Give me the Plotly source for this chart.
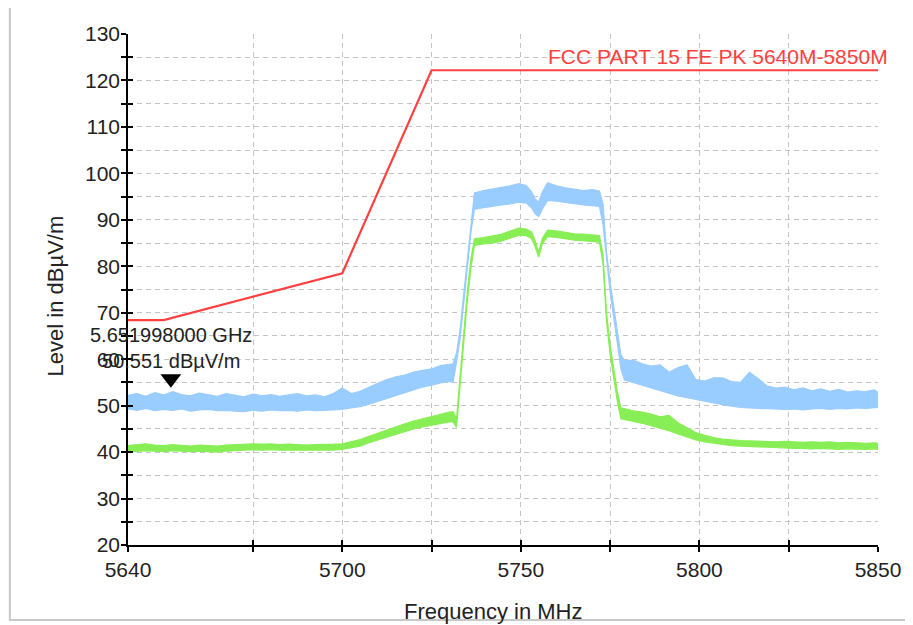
import plotly.graph_objects as go

# ---------------- data ----------------
freq_mhz = [
    5640, 5642.5, 5645, 5647.5, 5650, 5652.5, 5655, 5657.5, 5660, 5662.5,
    5665, 5667.5, 5670, 5672.5, 5675, 5677.5, 5680, 5682.5, 5685, 5687.5,
    5690, 5692.5, 5695, 5697.5, 5700, 5702.5, 5705, 5707.5, 5710, 5712.5,
    5715, 5717.5, 5720, 5722.5, 5725, 5727.5, 5730,
    5731, 5732, 5733, 5734, 5735, 5736,
    5737, 5739.5, 5742, 5744.5, 5747, 5749.5, 5751.5, 5753, 5754, 5755,
    5756, 5757.5, 5760, 5762.5, 5765, 5767.5, 5770, 5772,
    5773, 5774, 5775, 5776, 5777, 5778,
    5779, 5781.5, 5784, 5786.5, 5789, 5791.5, 5794, 5796.5, 5799, 5801.5,
    5804, 5806.5, 5809, 5811.5, 5814, 5816.5, 5819, 5821.5, 5824, 5826.5,
    5829, 5831.5, 5834, 5836.5, 5839, 5841.5, 5844, 5846.5, 5849, 5850,
]

peak_hi = [
    52.2, 52.6, 52.0, 52.8, 52.3, 53.0, 52.4, 52.1, 52.7, 52.3,
    52.0, 52.6, 52.2, 51.9, 52.5, 52.1, 52.4, 52.0, 52.3, 52.6,
    52.1, 52.3, 51.9, 52.6, 53.8, 52.6, 53.1, 54.0, 54.8, 55.6,
    56.2, 56.6, 57.2, 57.6, 57.9, 58.6, 58.9,
    59.0, 61.4, 66.5, 74.0, 81.8, 89.2,
    95.8, 96.3, 96.6, 96.9, 97.3, 97.8, 97.4, 96.0, 94.5, 93.8,
    96.0, 98.0, 97.3, 96.9, 96.6, 96.3, 96.5, 96.2,
    93.5, 83.0, 76.5, 71.0, 66.0, 61.0,
    59.7, 59.8, 59.0, 58.5, 58.8, 57.2, 58.2, 58.8, 55.6, 55.3,
    56.0, 56.0, 55.2, 55.0, 57.2, 55.8, 54.2, 53.8, 54.0, 53.4,
    53.8, 53.2, 53.6, 53.1, 53.5, 52.9, 53.2, 53.0, 53.4, 52.8,
]

peak_lo = [
    49.3, 49.0, 49.4, 48.9, 49.2, 49.0, 49.3, 48.8, 49.1, 49.2,
    48.9, 49.0, 48.8, 48.7, 49.0, 48.8, 49.1, 48.9, 49.0, 48.8,
    49.1, 48.9, 49.0, 49.1, 49.2, 49.5, 49.8, 50.3, 50.9, 51.6,
    52.2, 52.8, 53.4, 54.0, 54.4, 54.9, 55.2,
    55.0, 59.4, 64.5, 72.0, 79.8, 87.2,
    92.3, 92.6, 93.0, 93.2, 93.4, 93.8, 93.6, 92.6, 91.3, 90.7,
    92.3, 94.2, 94.0, 93.8, 93.5, 93.2, 93.1, 92.9,
    89.0, 81.0, 74.5, 69.0, 63.5, 58.0,
    55.5, 55.0, 54.4, 53.8, 53.2, 52.6, 52.1, 51.7, 51.3, 50.9,
    50.5, 50.2, 49.9, 49.6, 49.5, 49.4, 49.3, 49.2, 49.2, 49.3,
    49.1, 49.3, 49.4, 49.2, 49.4, 49.3, 49.5, 49.4, 49.6, 49.6,
]

avg_hi = [
    41.4, 41.6, 41.8, 41.5, 41.4, 41.6, 41.5, 41.3, 41.5, 41.4,
    41.3, 41.5, 41.6, 41.7, 41.8, 41.7, 41.8, 41.6, 41.7, 41.6,
    41.5, 41.6, 41.6, 41.7, 41.8, 42.2, 42.7, 43.4, 44.1, 44.8,
    45.5, 46.1, 46.7, 47.2, 47.6, 48.1, 48.6,
    48.7, 47.3, 56.5, 66.5, 74.5, 81.5,
    85.9, 86.2, 86.5, 86.9, 87.6, 88.2, 88.0, 87.4, 85.5, 83.0,
    86.0, 87.8, 87.6, 87.3, 87.0, 86.9, 86.7, 86.6,
    82.5, 70.0, 63.0, 58.0, 53.0, 49.5,
    49.3, 48.9, 48.6, 48.2, 47.6, 47.9, 46.3, 45.2, 44.2, 43.6,
    43.1, 42.8, 42.6, 42.5, 42.4, 42.3, 42.3, 42.2, 42.3, 42.2,
    42.1, 42.2, 42.1, 42.2, 42.0, 42.1, 42.0, 41.9, 42.0, 41.9,
]

avg_lo = [
    40.0, 40.2, 40.3, 40.2, 40.1, 40.3, 40.2, 40.1, 40.2, 40.1,
    40.0, 40.2, 40.3, 40.4, 40.5, 40.4, 40.5, 40.4, 40.4, 40.3,
    40.3, 40.4, 40.3, 40.4, 40.6, 40.9, 41.3, 42.0, 42.6, 43.2,
    43.8, 44.4, 45.0, 45.4, 45.8, 46.2, 46.5,
    46.5, 45.3, 54.5, 64.5, 72.5, 79.5,
    84.5, 84.8, 85.0, 85.4, 86.0, 86.7, 86.6, 86.0, 84.2, 82.0,
    84.8, 86.4, 86.2, 85.9, 85.6, 85.5, 85.3, 85.2,
    80.5, 68.0, 61.0, 56.0, 51.0, 47.2,
    47.0, 46.6, 46.2, 45.7, 45.2, 44.6, 43.9, 43.2, 42.6, 42.2,
    41.9, 41.6, 41.4, 41.3, 41.2, 41.1, 41.0, 40.9, 40.9, 40.8,
    40.8, 40.7, 40.8, 40.7, 40.6, 40.7, 40.6, 40.6, 40.7, 40.6,
]

limit_freq = [5640, 5650, 5700, 5725, 5850]
limit_level = [68.4, 68.4, 78.5, 122.2, 122.2]
limit_name = "FCC PART 15 FE PK 5640M-5850M"

marker_freq_mhz = 5651.998
marker_level = 50.551

x_tickvals = [5640, 5675, 5700, 5725, 5750, 5775, 5800, 5825, 5850]
x_ticktext = ["5640", "", "5700", "", "5750", "", "5800", "", "5850"]

# ---------------- styling ----------------
BLUE = "rgb(153,204,255)"
GREEN = "rgb(136,238,85)"
RED = "rgb(255,64,64)"
GRID = "#c4c4c4"
TXT = "#222222"
FONT = "Liberation Sans, Arial, sans-serif"

fig = go.Figure()

fig.add_trace(go.Scatter(x=freq_mhz, y=peak_lo, mode="lines",
                         line=dict(color=BLUE, width=1.2), showlegend=False,
                         hoverinfo="skip"))
fig.add_trace(go.Scatter(x=freq_mhz, y=peak_hi, mode="lines", fill="tonexty",
                         fillcolor=BLUE, line=dict(color=BLUE, width=1.2),
                         showlegend=False, hoverinfo="skip"))
fig.add_trace(go.Scatter(x=freq_mhz, y=avg_lo, mode="lines",
                         line=dict(color=GREEN, width=1.2), showlegend=False,
                         hoverinfo="skip"))
fig.add_trace(go.Scatter(x=freq_mhz, y=avg_hi, mode="lines", fill="tonexty",
                         fillcolor=GREEN, line=dict(color=GREEN, width=1.2),
                         showlegend=False, hoverinfo="skip"))
fig.add_trace(go.Scatter(x=limit_freq, y=limit_level, mode="lines",
                         line=dict(color=RED, width=2.2), showlegend=False,
                         hoverinfo="skip"))
fig.add_trace(go.Scatter(x=[marker_freq_mhz], y=[55.8], mode="markers",
                         marker=dict(symbol="triangle-down", size=18,
                                     color="black"),
                         showlegend=False, hoverinfo="skip"))
# invisible trace to render the overlaid "inside" tick axes
fig.add_trace(go.Scatter(x=[None], y=[None], xaxis="x2", yaxis="y2",
                         showlegend=False, hoverinfo="skip"))

fig.add_annotation(x=marker_freq_mhz, y=55.8, xref="x", yref="y",
                   text=f"{marker_freq_mhz/1000:.9f} GHz<br>{marker_level:.3f} dBµV/m",
                   showarrow=False, xanchor="center", yanchor="bottom",
                   yshift=5, font=dict(family=FONT, size=20, color=TXT),
                   align="center")

fig.add_annotation(x=1.0, y=limit_level[-1], xref="paper", yref="y",
                   text=limit_name, showarrow=False, xanchor="right",
                   yanchor="bottom", xshift=12, yshift=0,
                   font=dict(family=FONT, size=21, color=RED))

fig.add_annotation(x=-0.097, y=0.487, xref="paper", yref="paper",
                   xanchor="center", yanchor="middle",
                   text="Level in dBµV/m", showarrow=False, textangle=-90,
                   font=dict(family=FONT, size=22, color=TXT))
fig.add_annotation(x=0.487, y=-0.131, xref="paper", yref="paper",
                   xanchor="center", yanchor="middle",
                   text="Frequency in MHz", showarrow=False,
                   font=dict(family=FONT, size=22, color=TXT))

# Outer frame (right side falls outside the page)
fig.add_shape(type="rect", xref="paper", yref="paper",
              x0=-0.1575, x1=1.12, y0=-0.147, y1=1.053,
              line=dict(color="#c8c8c8", width=2), layer="below")

common_axis = dict(showline=True, linecolor="black", linewidth=1.5,
                   tickcolor="black", tickwidth=1.5, zeroline=False,
                   fixedrange=True)

fig.update_layout(
    width=905, height=617,
    margin=dict(l=120, r=27, t=26, b=80),
    paper_bgcolor="white", plot_bgcolor="white",
    font=dict(family=FONT, size=21, color=TXT),
    xaxis=dict(range=[5640, 5850], tickvals=x_tickvals, ticktext=x_ticktext,
               showgrid=True, gridcolor=GRID, griddash="5px,4px", gridwidth=1,
               ticks="outside", ticklen=5,
               tickfont=dict(family=FONT, size=21, color=TXT),
               **common_axis),
    yaxis=dict(range=[20, 130], tick0=20, dtick=10,
               showgrid=True, gridcolor=GRID, griddash="5px,4px", gridwidth=1,
               ticks="outside", ticklen=5, ticklabelstandoff=-3,
               minor=dict(dtick=5, ticks="outside", ticklen=5,
                          tickcolor="black", tickwidth=1.5, showgrid=True,
                          gridcolor=GRID, griddash="5px,4px", gridwidth=1),
               tickfont=dict(family=FONT, size=21, color=TXT),
               **common_axis),
    xaxis2=dict(overlaying="x", matches="x", range=[5640, 5850],
                tickvals=x_tickvals, ticks="inside", ticklen=5,
                showticklabels=False, showgrid=False, showline=False,
                tickcolor="black", tickwidth=1.5, zeroline=False,
                fixedrange=True, side="bottom"),
    yaxis2=dict(overlaying="y", range=[20, 130], tick0=20, dtick=5,
                ticks="inside", ticklen=5, showticklabels=False,
                showgrid=False, showline=False, tickcolor="black",
                tickwidth=1.5, zeroline=False, fixedrange=True, side="left"),
)

fig.write_html("out.html")
